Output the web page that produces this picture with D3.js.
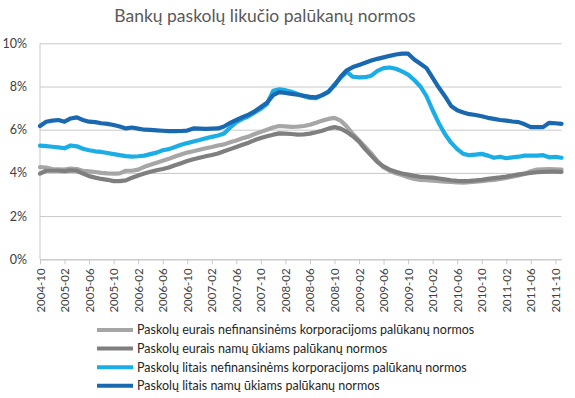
<!DOCTYPE html>
<html>
<head>
<meta charset="utf-8">
<script src="https://cdn.jsdelivr.net/npm/d3@7"></script>
<style>
  body { margin: 0; background: #fff; }
  text { font-family: Lato, "Liberation Sans", sans-serif; }
</style>
</head>
<body>
<div class="chart"></div>
<script>
var title = "Bankų paskolų likučio palūkanų normos";

// monthly categories 2004-10 .. 2011-11
var months = [];
for (var y = 2004, m = 10; y < 2011 || (y == 2011 && m <= 11); m++) {
  if (m > 12) { m = 1; y++; }
  if (y == 2011 && m > 11) break;
  months.push(y + "-" + (m < 10 ? "0" + m : m));
}

var tickLabels = ["2004-10", "2005-02", "2005-06", "2005-10", "2006-02", "2006-06",
  "2006-10", "2007-02", "2007-06", "2007-10", "2008-02", "2008-06", "2008-10",
  "2009-02", "2009-06", "2009-10", "2010-02", "2010-06", "2010-10", "2011-02",
  "2011-06", "2011-10"];

var yTicks = [0, 2, 4, 6, 8, 10];

var seriesNames = [
  "Paskolų eurais nefinansinėms korporacijoms palūkanų normos",
  "Paskolų eurais namų ūkiams palūkanų normos",
  "Paskolų litais nefinansinėms korporacijoms palūkanų normos",
  "Paskolų litais namų ūkiams palūkanų normos"
];

var euNefin = [4.27, 4.25, 4.18, 4.17, 4.15, 4.2, 4.18, 4.1, 4.07, 4.04,
  4.0, 3.98, 3.97, 3.98, 4.1, 4.1, 4.15, 4.28, 4.38, 4.47,
  4.56, 4.65, 4.76, 4.85, 4.94, 5.0, 5.07, 5.14, 5.2, 5.27,
  5.32, 5.42, 5.5, 5.6, 5.68, 5.8, 5.9, 6.0, 6.1, 6.17,
  6.15, 6.13, 6.14, 6.17, 6.23, 6.32, 6.42, 6.5, 6.55, 6.42,
  6.15, 5.8, 5.5, 5.2, 4.9, 4.55, 4.25, 4.1, 3.98, 3.9,
  3.8, 3.72, 3.68, 3.66, 3.64, 3.62, 3.6, 3.58, 3.56, 3.55,
  3.57, 3.6, 3.62, 3.65, 3.67, 3.72, 3.77, 3.82, 3.88, 3.95,
  4.08, 4.15, 4.17, 4.18, 4.17, 4.15];

var euNamu = [3.97, 4.1, 4.1, 4.1, 4.08, 4.12, 4.1, 3.97, 3.85, 3.78,
  3.72, 3.68, 3.62, 3.62, 3.65, 3.78, 3.88, 3.97, 4.05, 4.12,
  4.18, 4.25, 4.35, 4.45, 4.55, 4.63, 4.7, 4.77, 4.83, 4.9,
  5.0, 5.1, 5.2, 5.3, 5.4, 5.52, 5.62, 5.7, 5.77, 5.83,
  5.82, 5.8, 5.77, 5.78, 5.82, 5.88, 5.95, 6.05, 6.12, 6.05,
  5.9, 5.7, 5.45, 5.1, 4.8, 4.5, 4.3, 4.15, 4.05, 3.97,
  3.92, 3.86, 3.82, 3.8, 3.78, 3.74, 3.7, 3.66, 3.63, 3.62,
  3.63, 3.65, 3.68, 3.72, 3.76, 3.79, 3.83, 3.88, 3.93, 3.97,
  4.0, 4.03, 4.05, 4.06, 4.06, 4.05];

var ltNefin = [5.26, 5.24, 5.21, 5.18, 5.14, 5.27, 5.23, 5.12, 5.05, 5.0,
  4.97, 4.92, 4.87, 4.82, 4.78, 4.75, 4.77, 4.8, 4.87, 4.94,
  5.05, 5.1, 5.2, 5.3, 5.38, 5.45, 5.52, 5.6, 5.67, 5.73,
  5.82, 6.1, 6.35, 6.5, 6.62, 6.8, 6.97, 7.2, 7.8, 7.87,
  7.83, 7.76, 7.65, 7.55, 7.47, 7.46, 7.6, 7.75, 8.1, 8.4,
  8.68, 8.45, 8.42, 8.43, 8.5, 8.72, 8.85, 8.88, 8.82, 8.7,
  8.55, 8.3, 8.0, 7.55, 6.9, 6.3, 5.8, 5.4, 5.1, 4.88,
  4.82, 4.85, 4.88, 4.8, 4.7, 4.75, 4.68, 4.72, 4.75, 4.8,
  4.8, 4.8, 4.82, 4.72, 4.74, 4.7];

var ltNamu = [6.17, 6.37, 6.42, 6.45, 6.37, 6.52, 6.57, 6.45, 6.37, 6.35,
  6.3, 6.27, 6.22, 6.15, 6.06, 6.1, 6.05, 6.0, 5.99, 5.97,
  5.95, 5.93, 5.93, 5.94, 5.96, 6.06, 6.05, 6.04, 6.05, 6.06,
  6.15, 6.32, 6.45, 6.58, 6.7, 6.85, 7.05, 7.25, 7.6, 7.74,
  7.7, 7.66, 7.62, 7.57, 7.52, 7.5, 7.6, 7.75, 8.05, 8.45,
  8.75, 8.9, 9.0, 9.1, 9.2, 9.28, 9.35, 9.42, 9.48, 9.52,
  9.52, 9.25, 9.05, 8.85, 8.4, 7.95, 7.55, 7.1, 6.9, 6.8,
  6.72, 6.68, 6.62, 6.55, 6.5, 6.45, 6.42, 6.38, 6.35, 6.25,
  6.12, 6.12, 6.12, 6.32, 6.3, 6.27];

var colors = ["#a6a6a6", "#7f7f7f", "#1aade6", "#1a69b0"];
var series = [euNefin, euNamu, ltNefin, ltNamu];

var width = 575, height = 398;

var svg = d3.select(".chart").append("svg")
  .attr("width", width)
  .attr("height", height);

var x = d3.scalePoint().domain(months).range([40, 561.5]);
var yScale = d3.scaleLinear().domain([0, 10]).range([259.3, 43.3]);

// title
svg.append("text")
  .attr("x", 265)
  .attr("y", 22)
  .attr("text-anchor", "middle")
  .style("font-size", "17.5px")
  .style("fill", "#595959")
  .text(title);

// gridlines + y labels
var yAxis = svg.append("g")
  .attr("transform", "translate(40,0)")
  .call(d3.axisLeft(yScale).tickValues(yTicks).tickSize(-521.5).tickPadding(13)
    .tickFormat(function(d){ return d + "%"; }));
yAxis.select(".domain").remove();
yAxis.selectAll(".tick line").attr("stroke", "#c8c8c8").attr("stroke-width", 1);
yAxis.selectAll(".tick text")
  .style("font-size", "12.5px")
  .style("fill", "#404040");

// left axis line
svg.append("line")
  .attr("x1", 40).attr("x2", 40)
  .attr("y1", yScale(10)).attr("y2", yScale(0))
  .attr("stroke", "#c8c8c8");

// x axis
var xAxis = svg.append("g")
  .attr("transform", "translate(0," + yScale(0) + ")")
  .call(d3.axisBottom(x).tickValues(tickLabels).tickSize(5).tickSizeOuter(0));
xAxis.select(".domain").attr("stroke", "#c8c8c8");
xAxis.selectAll(".tick line").attr("stroke", "#c8c8c8");
xAxis.selectAll(".tick text")
  .attr("transform", "rotate(-90)")
  .attr("text-anchor", "end")
  .attr("x", -9)
  .attr("y", 0)
  .attr("dy", "0.35em")
  .style("font-size", "11.5px")
  .style("fill", "#404040");

// lines
var line = d3.line()
  .x(function(d, i){ return x(months[i]); })
  .y(function(d){ return yScale(d); });

series.forEach(function(s, k){
  svg.append("path")
    .attr("d", line(s))
    .attr("fill", "none")
    .attr("stroke", colors[k])
    .attr("stroke-width", 4.2)
    .attr("stroke-linejoin", "round")
    .attr("stroke-linecap", "round");
});

// legend
var legend = svg.selectAll("g.legend").data(seriesNames).enter().append("g")
  .attr("class", "legend")
  .attr("transform", function(d, i){ return "translate(97," + (330 + i * 18.6) + ")"; });

legend.append("line")
  .attr("x1", 0).attr("x2", 36)
  .attr("stroke", function(d, i){ return colors[i]; })
  .attr("stroke-width", 4);

legend.append("text")
  .attr("x", 40)
  .attr("dy", "0.35em")
  .style("font-size", "12.5px")
  .style("fill", "#262626")
  .text(function(d){ return d; });
</script>
</body>
</html>
